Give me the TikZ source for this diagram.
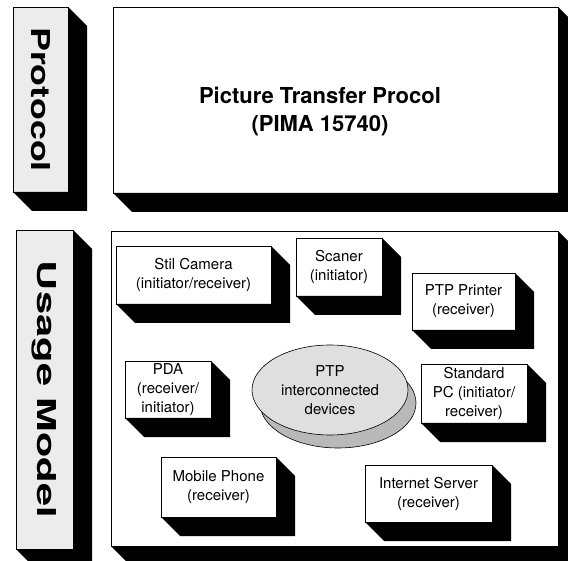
\documentclass[tikz,border=0pt]{standalone}
\usepackage{fontspec}
\setmainfont{TeX Gyre Heros}
\usepackage{graphicx}
\usetikzlibrary{shapes.geometric}
\newcommand\extrude[2][19]{\fill[black] (#2.north east) -- ++(#1,#1) -- ([shift={(#1,#1)}]#2.south east) -- ([shift={(#1,#1)}]#2.south west) -- (#2.south west) -- (#2.south east) -- cycle;}
\begin{document}
\begin{tikzpicture}[x=1pt,y=-1pt,
  face/.style={draw=black, line width=0.7pt, fill=white, inner sep=0pt, outer sep=0pt, align=center, font=\fontsize{15}{19}\selectfont},
  barface/.style={face, fill=gray!15},
  bartext/.style={rotate=-90, inner sep=0pt, font=\fontsize{26}{30}\selectfont\bfseries},
  disk/.style={draw=black, line width=0.6pt, ellipse, inner sep=0pt, minimum width=156, minimum height=90, align=center, font=\fontsize{15}{19}\selectfont}]
\useasboundingbox (0,0) rectangle (568,561);
% Protocol row
\node[barface, minimum width=55, minimum height=185] (protobar) at (40.5,99.5) {};
\extrude{protobar}
\node[bartext] (protolbl) at (protobar.center) {\scalebox{1.38}[1]{Protocol}};
\node[face, minimum width=445, minimum height=186] (protomain) at (335.5,100) {};
\extrude{protomain}
\node[align=center, font=\fontsize{22}{28}\selectfont\bfseries] (ptp) at (320,112) {Picture Transfer Procol\\(PIMA 15740)};
% Usage row
\node[barface, minimum width=57, minimum height=319] (usagebar) at (44.5,389.5) {};
\extrude{usagebar}
\node[bartext] (usagelbl) at (usagebar.center) {\scalebox{1.6}[1]{Usage Model}};
\node[face, minimum width=447, minimum height=315] (usagemain) at (334.5,388.5) {};
\extrude{usagemain}
% devices
\node[face, minimum width=155, minimum height=58] (camera) at (193.5,275) {Stil Camera\\(initiator/receiver)};
\extrude{camera}
\node[face, minimum width=86, minimum height=58] (scaner) at (339,267) {Scaner\\(initiator)};
\extrude{scaner}
\node[face, minimum width=103, minimum height=57] (printer) at (463.5,301.5) {PTP Printer\\(receiver)};
\extrude{printer}
\node[face, minimum width=86, minimum height=57] (pda) at (168,389.5) {PDA\\(receiver/\\initiator)};
\extrude{pda}
\node[face, minimum width=106, minimum height=59] (pc) at (474,393.5) {Standard\\PC (initiator/\\receiver)};
\extrude{pc}
\node[face, minimum width=115, minimum height=60] (mobile) at (218.5,487) {Mobile Phone\\(receiver)};
\extrude{mobile}
\node[face, minimum width=127, minimum height=57] (server) at (428.5,493.5) {Internet Server\\(receiver)};
\extrude{server}
% central disk
\node[disk, fill=gray!55] (diskback) at (338,403) {};
\node[disk, fill=gray!25] (diskfront) at (330,390) {PTP\\interconnected\\devices};
\end{tikzpicture}
\end{document}
